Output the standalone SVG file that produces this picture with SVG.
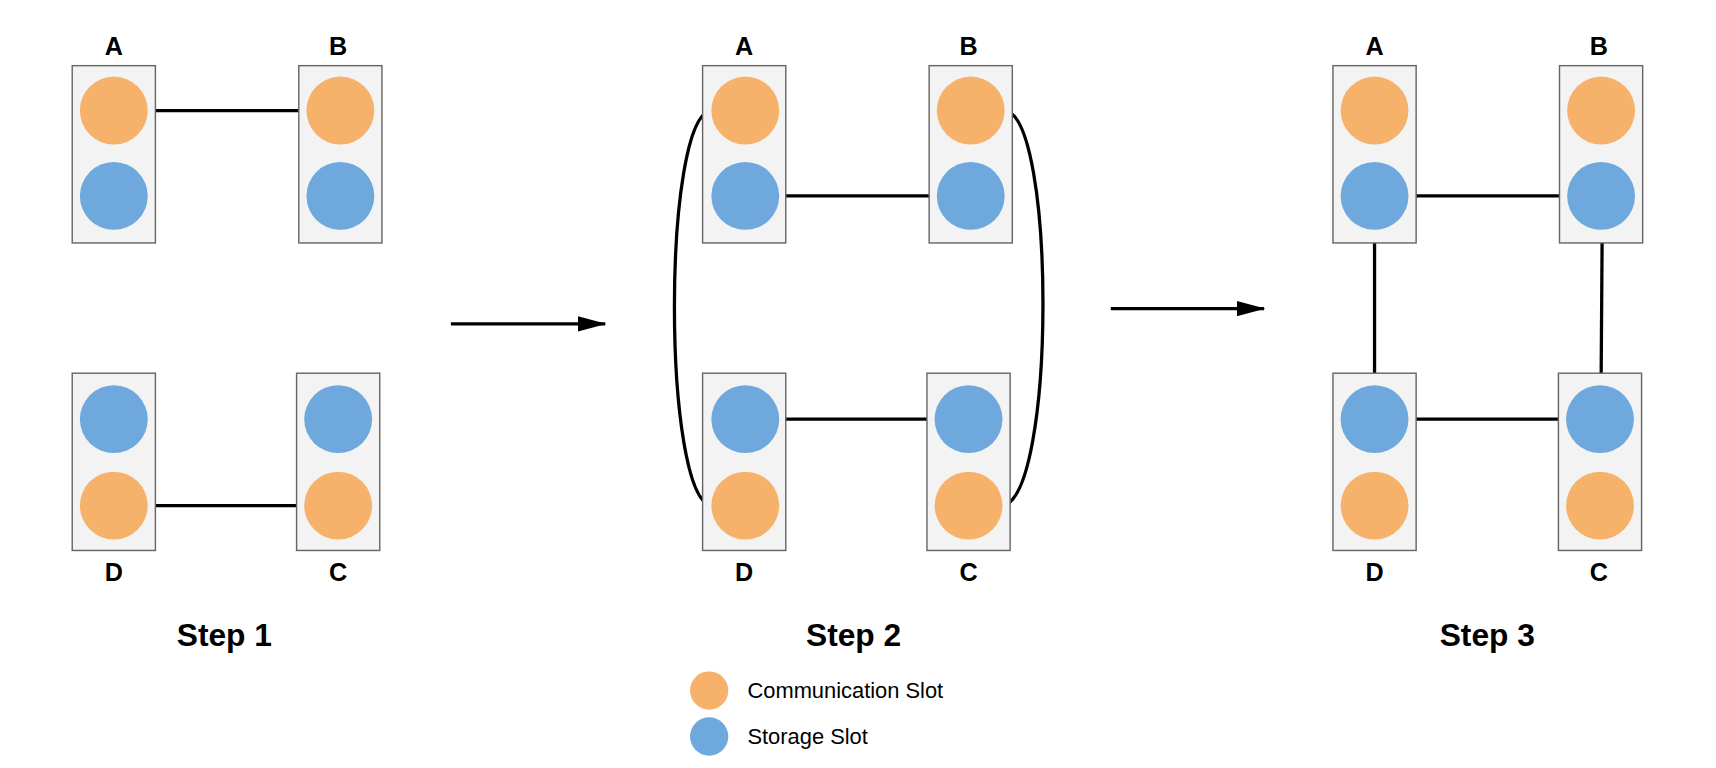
<svg xmlns="http://www.w3.org/2000/svg" width="1716" height="768" viewBox="0 0 1716 768">
<style>
.box{fill:#f3f3f3;stroke:#666;stroke-width:1.3}
.o{fill:#f6b26b}.b{fill:#6fa8dc}
.ln{stroke:#000;stroke-width:3;fill:none}
.lb{font-family:"Liberation Sans",Arial,sans-serif;font-weight:bold;font-size:23px;text-anchor:middle}
.st{font-family:"Liberation Sans",Arial,sans-serif;font-weight:bold;font-size:29px;text-anchor:middle}
.lg{font-family:"Liberation Sans",Arial,sans-serif;font-size:20px}
</style>
<defs><marker id="ah" markerWidth="10" markerHeight="8" refX="9" refY="4" orient="auto" markerUnits="userSpaceOnUse"><path d="M0,0 L10,4 L0,8z" fill="#000"/></marker>
<marker id="ah2" viewBox="0 0 26 14" markerWidth="26" markerHeight="14" refX="25" refY="7" orient="auto" markerUnits="userSpaceOnUse"><path d="M0,0 L26,7 L0,14z" fill="#000"/></marker></defs>
<rect width="1716" height="768" fill="#fff"/>
<g transform="scale(1.09439)">
<g id="connectors">
<line class="ln" x1="135" y1="101" x2="280" y2="101"/>
<line class="ln" x1="135" y1="462" x2="279" y2="462"/>
<line class="ln" x1="412" y1="296" x2="553" y2="296" marker-end="url(#ah2)"/>
<line class="ln" x1="711" y1="179" x2="856" y2="179"/>
<line class="ln" x1="711" y1="383" x2="854" y2="383"/>
<path class="ln" d="M650,101 C605,105 605,455 650,462"/>
<path class="ln" d="M918,101 C965,105 965,455 916,462"/>
<line class="ln" x1="1015" y1="282" x2="1155" y2="282" marker-end="url(#ah2)"/>
<line class="ln" x1="1287" y1="179" x2="1432" y2="179"/>
<line class="ln" x1="1287" y1="383" x2="1431" y2="383"/>
<line class="ln" x1="1256" y1="210" x2="1256" y2="352"/>
<line class="ln" x1="1464" y1="210" x2="1463" y2="352"/>
</g>
<g id="s1A"><rect class="box" x="66" y="60" width="76" height="162"/><circle class="o" cx="104" cy="101" r="31"/><circle class="b" cx="104" cy="179" r="31"/><text class="lb" x="104" y="50">A</text></g>
<g id="s1B"><rect class="box" x="273" y="60" width="76" height="162"/><circle class="o" cx="311" cy="101" r="31"/><circle class="b" cx="311" cy="179" r="31"/><text class="lb" x="309" y="50">B</text></g>
<g id="s1D"><rect class="box" x="66" y="341" width="76" height="162"/><circle class="b" cx="104" cy="383" r="31"/><circle class="o" cx="104" cy="462" r="31"/><text class="lb" x="104" y="531">D</text></g>
<g id="s1C"><rect class="box" x="271" y="341" width="76" height="162"/><circle class="b" cx="309" cy="383" r="31"/><circle class="o" cx="309" cy="462" r="31"/><text class="lb" x="309" y="531">C</text></g>
<text class="st" x="205" y="590">Step 1</text>
<g id="s2A"><rect class="box" x="642" y="60" width="76" height="162"/><circle class="o" cx="681" cy="101" r="31"/><circle class="b" cx="681" cy="179" r="31"/><text class="lb" x="680" y="50">A</text></g>
<g id="s2B"><rect class="box" x="849" y="60" width="76" height="162"/><circle class="o" cx="887" cy="101" r="31"/><circle class="b" cx="887" cy="179" r="31"/><text class="lb" x="885" y="50">B</text></g>
<g id="s2D"><rect class="box" x="642" y="341" width="76" height="162"/><circle class="b" cx="681" cy="383" r="31"/><circle class="o" cx="681" cy="462" r="31"/><text class="lb" x="680" y="531">D</text></g>
<g id="s2C"><rect class="box" x="847" y="341" width="76" height="162"/><circle class="b" cx="885" cy="383" r="31"/><circle class="o" cx="885" cy="462" r="31"/><text class="lb" x="885" y="531">C</text></g>
<text class="st" x="780" y="590">Step 2</text>
<g id="s3A"><rect class="box" x="1218" y="60" width="76" height="162"/><circle class="o" cx="1256" cy="101" r="31"/><circle class="b" cx="1256" cy="179" r="31"/><text class="lb" x="1256" y="50">A</text></g>
<g id="s3B"><rect class="box" x="1425" y="60" width="76" height="162"/><circle class="o" cx="1463" cy="101" r="31"/><circle class="b" cx="1463" cy="179" r="31"/><text class="lb" x="1461" y="50">B</text></g>
<g id="s3D"><rect class="box" x="1218" y="341" width="76" height="162"/><circle class="b" cx="1256" cy="383" r="31"/><circle class="o" cx="1256" cy="462" r="31"/><text class="lb" x="1256" y="531">D</text></g>
<g id="s3C"><rect class="box" x="1424" y="341" width="76" height="162"/><circle class="b" cx="1462" cy="383" r="31"/><circle class="o" cx="1462" cy="462" r="31"/><text class="lb" x="1461" y="531">C</text></g>
<text class="st" x="1359" y="590">Step 3</text>
<g id="legend"><circle class="o" cx="648" cy="631" r="17.5"/><circle class="b" cx="648" cy="673" r="17.5"/>
<text class="lg" x="683" y="638">Communication Slot</text><text class="lg" x="683" y="680">Storage Slot</text></g>
</g>
</svg>
